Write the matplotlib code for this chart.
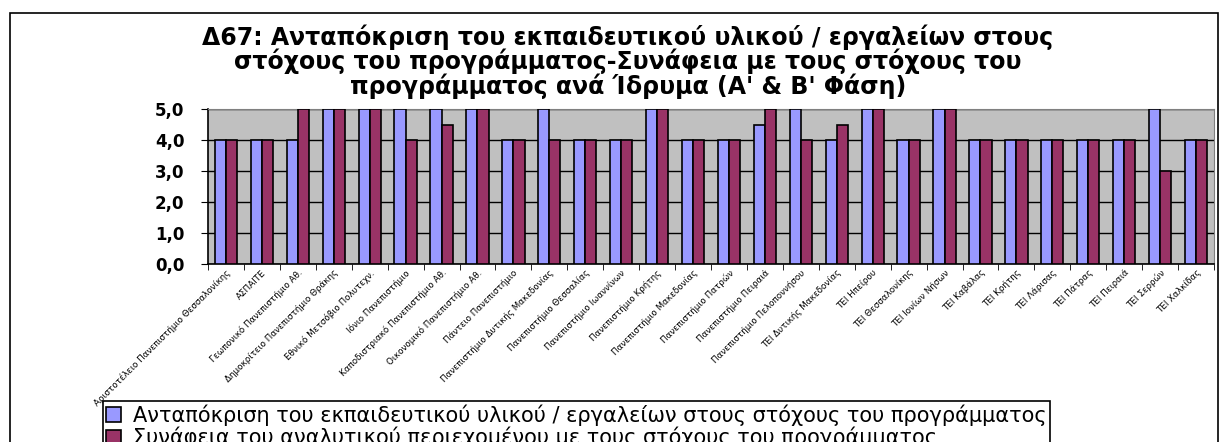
import numpy as np
import matplotlib.pyplot as plt
import matplotlib.transforms as mtransforms
from matplotlib.patches import Rectangle

institutions = [
    "Αριστοτέλειο Πανεπιστήμιο Θεσσαλονίκης", "ΑΣΠΑΙΤΕ",
    "Γεωπονικό Πανεπιστήμιο Αθ.", "Δημοκρίτειο Πανεπιστήμιο Θράκης",
    "Εθνικό Μετσόβιο Πολυτεχν.", "Ιόνιο Πανεπιστήμιο",
    "Καποδιστριακό Πανεπιστήμιο Αθ.", "Οικονομικό Πανεπιστήμιο Αθ.",
    "Πάντειο Πανεπιστήμιο", "Πανεπιστήμιο Δυτικής Μακεδονίας",
    "Πανεπιστήμιο Θεσσαλίας", "Πανεπιστήμιο Ιωαννίνων",
    "Πανεπιστήμιο Κρήτης", "Πανεπιστήμιο Μακεδονίας",
    "Πανεπιστήμιο Πατρών", "Πανεπιστήμιο Πειραιά",
    "Πανεπιστήμιο Πελοποννήσου", "ΤΕΙ Δυτικής Μακεδονίας",
    "ΤΕΙ Ηπείρου", "ΤΕΙ Θεσσαλονίκης", "ΤΕΙ Ιονίων Νήσων",
    "ΤΕΙ Καβάλας", "ΤΕΙ Κρήτης", "ΤΕΙ Λάρισας", "ΤΕΙ Πάτρας",
    "ΤΕΙ Πειραιά", "ΤΕΙ Σερρών", "ΤΕΙ Χαλκίδας",
]

# Ανταπόκριση υλικού / εργαλείων
material = [4, 4, 4, 5, 5, 5, 5, 5, 4, 5, 4, 4, 5, 4,
            4, 4.5, 5, 4, 5, 4, 5, 4, 4, 4, 4, 4, 5, 4]
# Συνάφεια αναλυτικού περιεχομένου
relevance = [4, 4, 5, 5, 5, 4, 4.5, 5, 4, 4, 4, 4, 5, 4,
             4, 5, 4, 4.5, 5, 4, 5, 4, 4, 4, 4, 4, 3, 4]

series_labels = [
    "Ανταπόκριση του εκπαιδευτικού υλικού / εργαλείων στους στόχους του προγράμματος",
    "Συνάφεια του αναλυτικού περιεχομένου με τους στόχους του προγράμματος",
]
title = ("Δ67: Ανταπόκριση του εκπαιδευτικού υλικού / εργαλείων στους\n"
         "στόχους του προγράμματος-Συνάφεια με τους στόχους του\n"
         "προγράμματος ανά Ίδρυμα (Α' & Β' Φάση)")

plt.rcParams['font.family'] = ['DejaVu Sans']

W, H = 1223, 442
fig = plt.figure(figsize=(W / 100, H / 100), dpi=100)

# outer chart frame (bottom runs off the picture)
fig.patches.append(Rectangle((10 / W, -0.05), 1208 / W, 1.05 - 13 / H,
                             transform=fig.transFigure, fill=False,
                             edgecolor='black', linewidth=1.2))

ax = fig.add_axes([208 / W, 1 - 264 / H, (1214 - 208) / W, (264 - 109) / H])
ax.set_facecolor('#C0C0C0')

x = np.arange(len(institutions))
w = 0.31
ax.bar(x - w / 2, material, w, color='#9999FF', edgecolor='black', linewidth=1.2,
       label=series_labels[0], zorder=3)
ax.bar(x + w / 2, relevance, w, color='#993366', edgecolor='black', linewidth=1.2,
       label=series_labels[1], zorder=3)

ax.set_xlim(-0.5, len(institutions) - 0.5)
ax.set_ylim(0, 5)
ax.set_yticks(np.arange(0, 6, 1))
ax.set_yticklabels([f"{v:.1f}".replace('.', ',') for v in np.arange(0, 6, 1)],
                   fontsize=12, fontweight='bold')
ax.grid(axis='y', color='black', linewidth=1, zorder=1)

ax.set_xticks(x)
ax.set_xticklabels(institutions, rotation=45, ha='right', fontsize=6.3,
                   rotation_mode='anchor')
shift = mtransforms.ScaledTranslation(-0.3, 0, fig.dpi_scale_trans)
for lbl in ax.get_xticklabels():
    lbl.set_transform(lbl.get_transform() + shift)
ax.set_xticks(np.arange(-0.5, len(institutions), 1), minor=True)
ax.tick_params(axis='x', which='major', length=0, pad=3)
ax.tick_params(axis='x', which='minor', length=4, direction='out')
ax.tick_params(axis='y', length=5, direction='out', pad=12)

for side in ['top', 'right']:
    ax.spines[side].set_color('#808080')
for side in ['left', 'bottom']:
    ax.spines[side].set_color('black')
    ax.spines[side].set_linewidth(1.2)

fig.text(628 / W, 1 - 24 / H, title, ha='center', va='top', fontsize=17,
         fontweight='bold', linespacing=0.97)

leg = fig.legend(loc='upper left', bbox_to_anchor=(103 / W, 1 - 401 / H),
                 fontsize=15, frameon=True, fancybox=False, framealpha=1,
                 edgecolor='black', handlelength=0.7, handleheight=0.7,
                 handletextpad=0.6, borderpad=0.15, labelspacing=0.05,
                 borderaxespad=0)
leg.get_frame().set_linewidth(1.2)

fig.savefig('out.png', dpi=100)
